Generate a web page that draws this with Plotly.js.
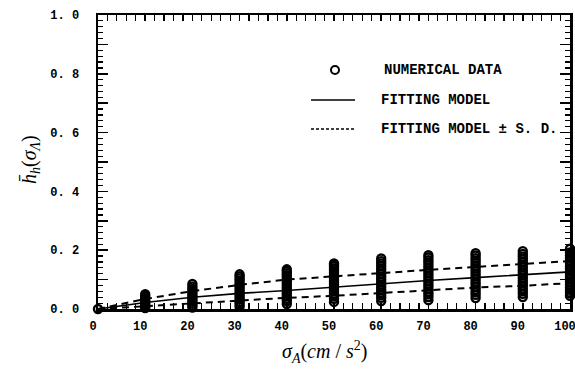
<!DOCTYPE html>
<html>
<head>
<meta charset="utf-8">
<script src="https://cdn.plot.ly/plotly-3.0.1.min.js"></script>
<style>html,body{margin:0;padding:0;background:#fff;}#chart{width:575px;height:377px;}</style>
</head>
<body>
<div id="chart"></div>
<script>
// Numerical data columns (x = sigma_A, values of h-bar)
var xCols = [0, 10, 20, 30, 40, 50, 60, 70, 80, 90, 100];
var d0 = [0.0];
var d10 = [0.003,0.008,0.013,0.018,0.023,0.028,0.033,0.038,0.044,0.050];
var d20 = [0.005,0.012,0.019,0.026,0.033,0.040,0.047,0.054,0.061,0.068,0.076,0.085];
var d30 = [0.008,0.016,0.024,0.032,0.040,0.048,0.056,0.064,0.072,0.080,0.088,0.096,0.104,0.111,0.118];
var d40 = [0.017,0.027,0.035,0.043,0.051,0.059,0.067,0.075,0.083,0.091,0.099,0.107,0.115,0.122,0.129,0.135];
var d50 = [0.024,0.035,0.043,0.051,0.059,0.067,0.075,0.083,0.091,0.099,0.107,0.115,0.123,0.131,0.138,0.145,0.150,0.155];
var d60 = [0.027,0.038,0.047,0.056,0.065,0.074,0.083,0.092,0.101,0.110,0.119,0.128,0.137,0.146,0.155,0.163,0.172];
var d70 = [0.030,0.041,0.050,0.059,0.068,0.077,0.086,0.095,0.104,0.113,0.122,0.131,0.140,0.149,0.158,0.166,0.175,0.183];
var d80 = [0.037,0.048,0.057,0.066,0.075,0.084,0.093,0.102,0.111,0.120,0.129,0.138,0.147,0.156,0.165,0.173,0.182,0.190];
var d90 = [0.041,0.052,0.061,0.070,0.079,0.088,0.097,0.106,0.115,0.124,0.133,0.142,0.151,0.160,0.169,0.178,0.187,0.197];
var d100 = [0.045,0.056,0.065,0.074,0.083,0.092,0.101,0.110,0.119,0.128,0.137,0.146,0.155,0.164,0.173,0.182,0.192,0.205];
var dataCols = [d0,d10,d20,d30,d40,d50,d60,d70,d80,d90,d100];

// Fitting model and +/- S.D.
var xFit = [0, 10, 20, 30, 40, 50, 60, 70, 80, 90, 100];
var fitModel = [0, 0.022, 0.040, 0.053, 0.063, 0.075, 0.086, 0.097, 0.107, 0.117, 0.126];
var fitUpper = [0, 0.034, 0.061, 0.082, 0.100, 0.110, 0.122, 0.133, 0.143, 0.155, 0.163];
var fitLower = [0, 0.010, 0.020, 0.030, 0.038, 0.045, 0.054, 0.064, 0.073, 0.079, 0.088];

// Tick labels
var xTickVals = [0,10,20,30,40,50,60,70,80,90,100];
var xTickText = ['0','10','20','30','40','50','60','70','80','90','100'];
var yTickVals = [0,0.2,0.4,0.6,0.8,1.0];
var yTickText = ['0. 0','0. 2','0. 4','0. 6','0. 8','1. 0'];

// Legend labels
var legendLabels = ['NUMERICAL DATA', 'FITTING MODEL', 'FITTING MODEL \u00B1 S. D.'];

var px = [], py = [];
dataCols.forEach(function(col, i){ col.forEach(function(v){ px.push(xCols[i]); py.push(v); }); });

var traces = [
  {x: px, y: py, type: 'scatter', mode: 'markers', showlegend: false, cliponaxis: false,
   marker: {symbol: 'circle-open', size: 8, color: '#000', line: {width: 2.4, color: '#000'}}},
  {x: xFit, y: fitModel, type: 'scatter', mode: 'lines', showlegend: false,
   line: {color: '#000', width: 1.7}},
  {x: xFit, y: fitUpper, type: 'scatter', mode: 'lines', showlegend: false,
   line: {color: '#000', width: 2, dash: '7px,5px'}},
  {x: xFit, y: fitLower, type: 'scatter', mode: 'lines', showlegend: false,
   line: {color: '#000', width: 2, dash: '7px,5px'}},
  // invisible trace to activate the secondary (tick-only) y axis
  {x: [0], y: [0], type: 'scatter', mode: 'markers', yaxis: 'y2', showlegend: false,
   marker: {opacity: 0}, hoverinfo: 'skip'}
];

var L = 98, R = 570, T = 15, B = 309;
function pxX(p){ return (p - L) / (R - L); }
function pxY(p){ return (B - p) / (B - T); }

var tickFont = {family: 'Liberation Mono', size: 12, color: '#000', weight: 'bold'};
var legFont = {family: 'Liberation Mono', size: 14, color: '#000', weight: 'bold'};

function ann(x, y, text, font, extra){
  var a = {xref: 'paper', yref: 'paper', x: pxX(x), y: pxY(y), text: text, showarrow: false,
           xanchor: 'center', yanchor: 'middle', font: font};
  for (var k in (extra || {})) a[k] = extra[k];
  return a;
}

var layout = {
  width: 575, height: 377,
  margin: {l: L, r: 575 - R, t: T, b: 377 - B},
  paper_bgcolor: '#fff', plot_bgcolor: '#fff',
  showlegend: false,
  xaxis: {
    range: [0, 100], tickmode: 'array', tickvals: xTickVals, ticktext: xTickText,
    ticks: 'inside', ticklen: 6, tickwidth: 1.5, tickcolor: '#000',
    minor: {dtick: 2, ticks: 'inside', ticklen: 3, tickwidth: 1.2, tickcolor: '#000'},
    showline: true, linecolor: '#000', linewidth: 2.5, mirror: 'allticks',
    showgrid: false, zeroline: false, tickfont: tickFont, ticklabelshift: -5, ticklabelstandoff: 4,
    ticklabeloverflow: 'allow'
  },
  yaxis: {
    range: [0, 1.0], tickmode: 'array', tickvals: yTickVals, ticktext: yTickText,
    ticks: 'inside', ticklen: 10, tickwidth: 1.5, tickcolor: '#000',
    minor: {dtick: 0.02, ticks: 'inside', ticklen: 5, tickwidth: 1.2, tickcolor: '#000'},
    showline: true, linecolor: '#000', linewidth: 2.5, mirror: 'allticks',
    showgrid: false, zeroline: false, tickfont: tickFont, ticklabelstandoff: 14
  },
  yaxis2: {
    overlaying: 'y', side: 'left', range: [0, 1.0], dtick: 0.1, tick0: 0,
    ticks: 'inside', ticklen: 10, tickwidth: 1.5, tickcolor: '#000',
    showticklabels: false, showline: false, mirror: 'allticks', showgrid: false, zeroline: false
  },
  annotations: [
    ann(30, 160, '<i>h\u0304</i><sub><i>h</i></sub>(<i>\u03C3</i><sub><i>\u039B</i></sub>)',
        {family: 'Liberation Serif', size: 20, color: '#000'}, {textangle: -90}),
    ann(324, 352, '<i>\u03C3</i><sub><i>A</i></sub>(<i>cm</i> / <i>s</i><sup>2</sup>)',
        {family: 'Liberation Serif', size: 20, color: '#000'}),
    ann(382, 70, legendLabels[0], legFont, {xanchor: 'left'}),
    ann(379, 100, legendLabels[1], legFont, {xanchor: 'left'}),
    ann(379, 129, legendLabels[2], legFont, {xanchor: 'left'})
  ],
  shapes: [
    {type: 'circle', xref: 'paper', yref: 'paper', x0: pxX(331), x1: pxX(339), y0: pxY(74), y1: pxY(66), line: {color: '#000', width: 2}},
    {type: 'line', xref: 'paper', yref: 'paper', x0: pxX(311), x1: pxX(355), y0: pxY(100), y1: pxY(100), line: {color: '#000', width: 1.6}},
    {type: 'line', xref: 'paper', yref: 'paper', x0: pxX(311), x1: pxX(354), y0: pxY(129), y1: pxY(129), line: {color: '#000', width: 1.3, dash: '3px,2px'}}
  ]
};

Plotly.newPlot('chart', traces, layout, {staticPlot: true, displayModeBar: false});
</script>
</body>
</html>
